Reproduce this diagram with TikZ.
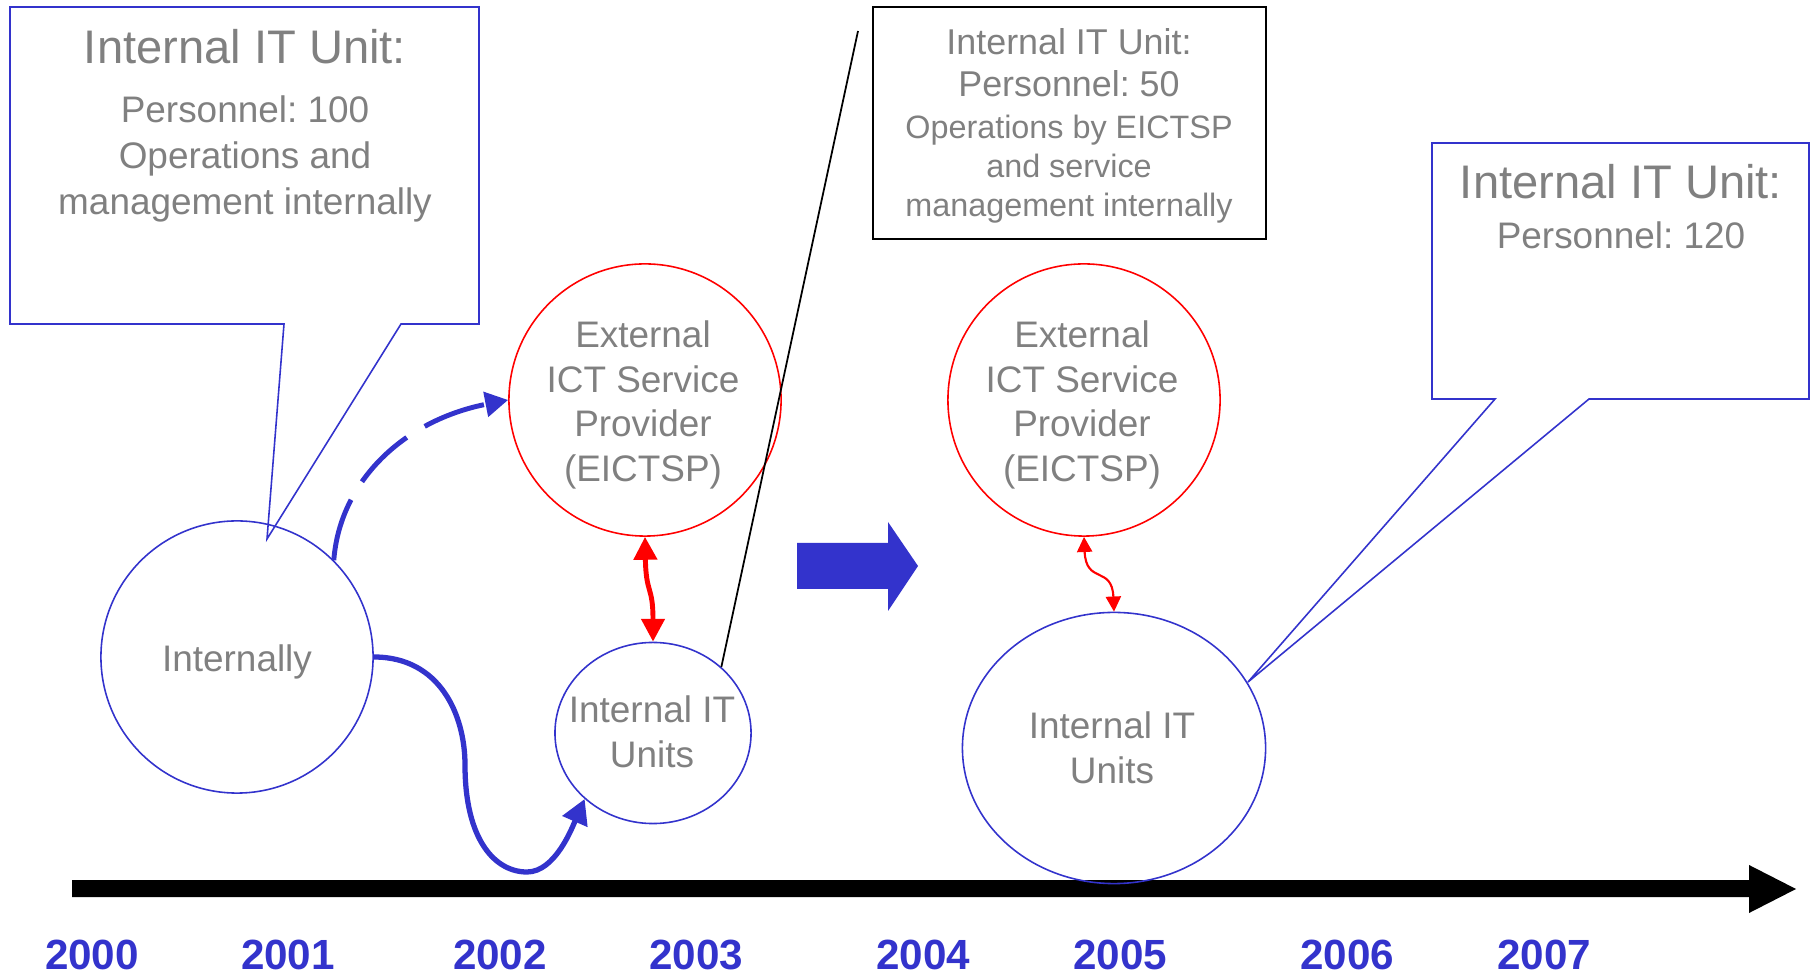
\documentclass[tikz,border=0pt]{standalone}
\usepackage{fontspec}
\setmainfont{Liberation Sans}
\usetikzlibrary{arrows.meta,shapes.geometric}
\definecolor{pptblue}{RGB}{51,51,204}
\definecolor{pptgray}{RGB}{128,128,128}
\frenchspacing

\begin{document}
\begin{tikzpicture}[x=0.01cm, y=-0.01cm,
        every node/.style={text=pptgray, align=center, inner sep=0pt},
        bigtext/.style={font=\fontsize{13.4}{16}\selectfont},
        midtext/.style={font=\fontsize{10.5}{13.2}\selectfont},
        smalltext/.style={font=\fontsize{9.2}{11}\selectfont},
        ringtext/.style={font=\fontsize{10.5}{12.7}\selectfont},
        bluering/.style={draw=pptblue, line width=0.45pt},
        redring/.style={circle, draw=red, line width=0.45pt, minimum size=2.72cm},
        speechbox/.style={draw=pptblue, line width=0.45pt},
        yearlabel/.style={text=pptblue, font=\bfseries\fontsize{12}{14}\selectfont}]
        \useasboundingbox (0,0) rectangle (1810,977);

        \fill[black] (72,880) -- (1749,880) -- (1749,865) -- (1796,889) -- (1749,913) -- (1749,897) -- (72,897) -- cycle;
        \foreach \yr/\xpos in {2000/92, 2001/288, 2002/500, 2003/696, 2004/923, 2005/1120, 2006/1347, 2007/1544}
            \node[yearlabel] (y\yr) at (\xpos,955) {\yr};

        \node[bluering, circle, minimum size=2.72cm] (intl) at (237,657) {};
        \node[ringtext] (intltxt) at (237,662) {Internally};
        \node[redring] (prov1) at (645,400) {};
        \node[ringtext] (prov1txt) at (643,405) {External\\ICT Service\\Provider\\(EICTSP)};
        \node[bluering, ellipse, minimum width=1.96cm, minimum height=1.81cm] (units1) at (653,733) {};
        \node[ringtext] (units1txt) at (652,732) {Internal IT\\Units};

        \node[redring] (prov2) at (1084,400) {};
        \node[ringtext] (prov2txt) at (1082,405) {External\\ICT Service\\Provider\\(EICTSP)};
        \node[bluering, ellipse, minimum width=3.03cm, minimum height=2.71cm] (units2) at (1114,748) {};
        \node[ringtext] (units2txt) at (1112,748) {Internal IT\\Units};

        \coordinate (tip1) at (267,539);
        \draw[speechbox] (10,7) -- (479,7) -- (479,324) -- (401,324) -- (tip1) -- (284,324) -- (10,324) -- cycle;
        \node[bigtext] (title1) at (245,47) {Internal IT Unit:};
        \node[midtext] (body1) at (245,159) {Personnel: 100\\Operations and\\management internally};

        \draw[black, line width=0.57pt] (873,7) rectangle (1266,239);
        \node[font=\fontsize{10.2}{12}\selectfont] (title2) at (1069,63) {Internal IT Unit:\\Personnel: 50};
        \node[smalltext] (body2) at (1069,169) {Operations by EICTSP\\and service\\management internally};
        \coordinate (linetop) at (858,31);
        \draw[black, line width=0.5pt] (linetop) -- (units1.44);

        \coordinate (tip3) at (1248,682);
        \draw[speechbox] (1432,143) -- (1809,143) -- (1809,399) -- (1589,399) -- (tip3) -- (1495,399) -- (1432,399) -- cycle;
        \node[bigtext] (title3) at (1621,182) {Internal IT Unit:};
        \node[midtext] (body3) at (1621,235) {Personnel: 120};

        \draw[pptblue, line width=1.4pt, dash pattern=on 18pt off 6pt, -{Triangle[length=6.5pt, width=7pt]}]
            (intl.45) .. controls (340,480) and (405,420) .. (prov1.west);
        \draw[pptblue, line width=1.5pt, -{Triangle[length=7pt, width=7.5pt]}]
            (intl.east) .. controls (440,657) and (465,715) .. (465,765)
            .. controls (465,840) and (495,872) .. (527,872)
            .. controls (555,872) and (572,828) .. (units1.224);
        \draw[red, line width=1.4pt, {Triangle[length=6.5pt, width=6.5pt]}-{Triangle[length=6.5pt, width=6.5pt]}]
            (prov1.south) .. controls (646,595) and (653,585) .. (units1.north);
        \draw[red, line width=0.6pt, {Triangle[length=4.3pt, width=4.3pt]}-{Triangle[length=4.3pt, width=4.3pt]}]
            (prov2.south) .. controls (1086,585) and (1112,565) .. (units2.north);

        \fill[pptblue] (797,543) -- (888,543) -- (888,522) -- (918,566) -- (888,611) -- (888,589) -- (797,589) -- cycle;

    \end{tikzpicture}
\end{document}
